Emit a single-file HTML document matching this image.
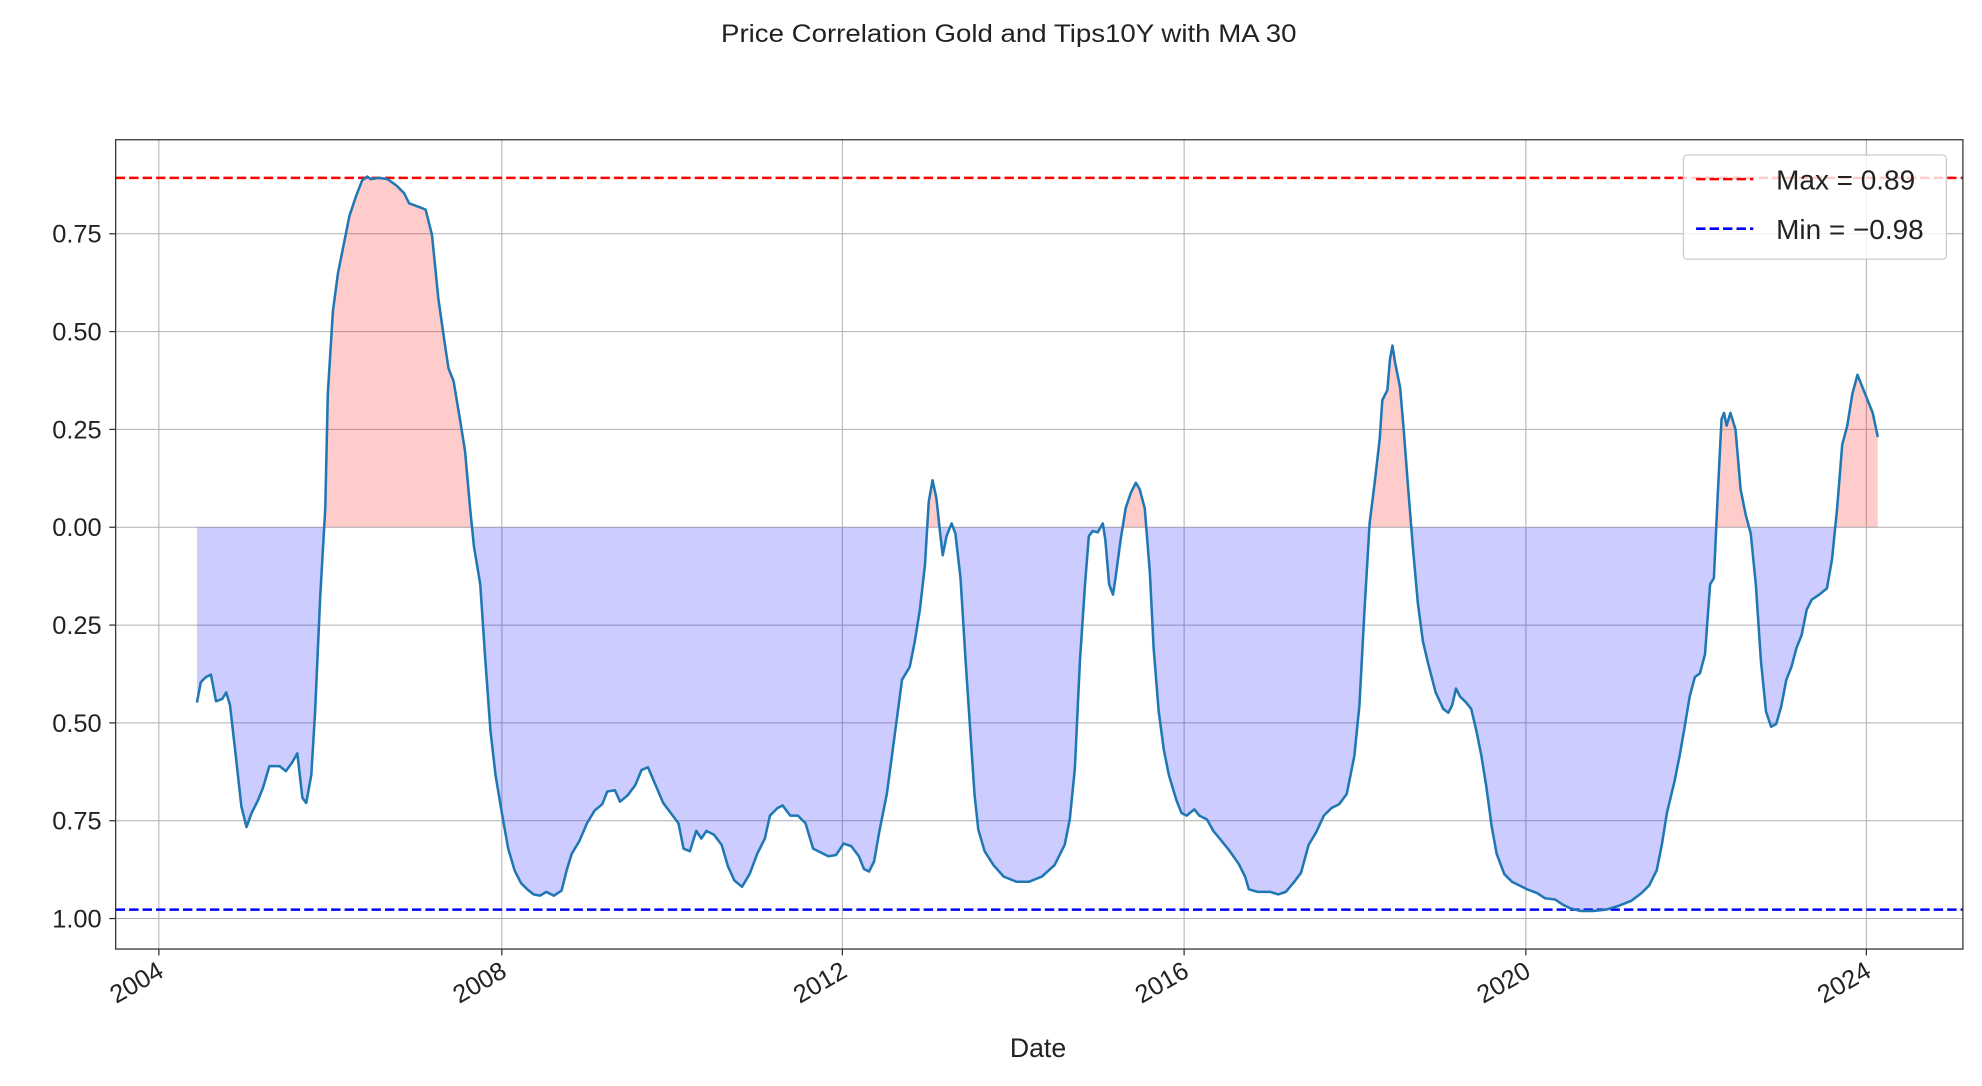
<!DOCTYPE html>
<html><head><meta charset="utf-8"><style>html,body{margin:0;padding:0;background:#fff}svg{display:block}</style></head>
<body>
<svg width="1982" height="1086" viewBox="0 0 1560 854.8" xmlns="http://www.w3.org/2000/svg" font-family="'Liberation Sans Narrow','Liberation Sans',sans-serif">
<defs>
<clipPath id="up"><rect x="91" y="110" width="1454" height="305"/></clipPath>
<clipPath id="dn"><rect x="91" y="415" width="1454" height="332"/></clipPath>
<path id="fillp" d="M155,415 L155,553 158,537 162,533 166,531 170,552 175,550 178,545 181,555 185,590 190,635 194,651 198,640 203,630 207,620 212,603 220,603 225,607 230,600 234,593 238,628 241,632 245,610 248,560 252,470 256,400 258,310 262,245 266,215 270,195 275,170 280,155 285,142 289,139 292,141 298,140 305,141 312,146 318,152 322,160 330,163 335,165 340,185 345,235 350,270 353,290 357,300 362,330 366,355 370,400 373,430 378,460 382,520 386,575 390,610 395,640 400,668 405,685 410,695 415,700 420,704 425,705 430,702 436,705 442,701 446,685 450,672 456,662 462,648 468,638 474,633 478,623 484,622 488,631 494,626 500,618 505,606 510,604 516,618 522,632 528,640 534,648 538,668 543,670 548,654 552,660 556,654 562,657 568,665 573,682 578,693 584,698 590,688 596,672 602,660 606,642 612,636 616,634 622,642 628,642 634,648 640,668 646,671 652,674 658,673 664,664 670,666 676,674 680,684 684,686 688,678 692,655 698,625 704,580 710,535 716,525 720,505 724,480 728,445 731,395 734,378 737,392 740,420 742,437 745,422 749,412 752,420 756,455 760,520 764,580 767,625 770,653 775,670 782,681 790,690 800,694 810,694 820,690 830,681 838,665 842,645 846,605 850,520 854,460 857,422 860,418 864,419 868,412 870,425 873,460 876,468 878,455 882,425 886,400 890,388 894,380 897,385 901,400 905,450 908,510 912,560 916,590 920,610 926,630 930,640 934,642 940,637 944,642 950,645 955,654 960,660 968,670 975,680 980,690 983,700 990,702 1000,702 1006,704 1012,702 1018,695 1024,687 1030,665 1036,655 1042,642 1048,636 1054,633 1060,625 1066,595 1070,555 1074,480 1078,412 1082,380 1086,345 1088,315 1092,307 1094,283 1096,272 1098,285 1102,305 1105,340 1108,380 1112,430 1116,475 1120,505 1124,522 1130,545 1136,558 1140,561 1143,555 1146,542 1149,548 1154,553 1158,558 1162,575 1166,595 1170,620 1174,650 1178,672 1184,688 1190,694 1196,697 1202,700 1210,703 1216,707 1224,708 1230,712 1236,715 1244,717 1254,717 1264,716 1274,713 1284,709 1292,703 1298,697 1304,685 1308,665 1312,640 1318,615 1322,595 1326,572 1330,548 1334,533 1338,530 1342,515 1346,460 1349,455 1352,390 1355,330 1357,325 1359,335 1362,325 1366,338 1370,385 1374,405 1378,420 1382,460 1386,520 1390,560 1394,572 1398,570 1402,556 1406,535 1410,525 1414,510 1418,500 1422,480 1426,472 1432,468 1438,463 1442,440 1446,400 1450,350 1454,335 1458,310 1462,295 1466,305 1470,315 1474,325 1478,344 L1478,415 Z"/>
</defs>
<text x="794" y="33" text-anchor="middle" font-size="20" fill="#222" textLength="453" lengthAdjust="spacingAndGlyphs">Price Correlation Gold and Tips10Y with MA 30</text>
<g stroke="#b0b0b0" stroke-width="0.8">
<line x1="125" y1="110" x2="125" y2="747"/><line x1="395" y1="110" x2="395" y2="747"/><line x1="663" y1="110" x2="663" y2="747"/><line x1="932" y1="110" x2="932" y2="747"/><line x1="1201" y1="110" x2="1201" y2="747"/><line x1="1469" y1="110" x2="1469" y2="747"/>
<line x1="91" y1="184" x2="1545" y2="184"/><line x1="91" y1="261" x2="1545" y2="261"/><line x1="91" y1="338" x2="1545" y2="338"/><line x1="91" y1="415" x2="1545" y2="415"/><line x1="91" y1="492" x2="1545" y2="492"/><line x1="91" y1="569" x2="1545" y2="569"/><line x1="91" y1="646" x2="1545" y2="646"/><line x1="91" y1="723" x2="1545" y2="723"/>
</g>
<use href="#fillp" fill="#ff0000" fill-opacity="0.2" clip-path="url(#up)"/>
<use href="#fillp" fill="#0000ff" fill-opacity="0.2" clip-path="url(#dn)"/>
<line x1="91" y1="140" x2="1545" y2="140" stroke="#ff0000" stroke-width="2" stroke-dasharray="7.4,3.2"/>
<line x1="91" y1="716" x2="1545" y2="716" stroke="#0000ff" stroke-width="2" stroke-dasharray="7.4,3.2"/>
<polyline fill="none" stroke="#1f77b4" stroke-width="2" stroke-linejoin="round" points="155,553 158,537 162,533 166,531 170,552 175,550 178,545 181,555 185,590 190,635 194,651 198,640 203,630 207,620 212,603 220,603 225,607 230,600 234,593 238,628 241,632 245,610 248,560 252,470 256,400 258,310 262,245 266,215 270,195 275,170 280,155 285,142 289,139 292,141 298,140 305,141 312,146 318,152 322,160 330,163 335,165 340,185 345,235 350,270 353,290 357,300 362,330 366,355 370,400 373,430 378,460 382,520 386,575 390,610 395,640 400,668 405,685 410,695 415,700 420,704 425,705 430,702 436,705 442,701 446,685 450,672 456,662 462,648 468,638 474,633 478,623 484,622 488,631 494,626 500,618 505,606 510,604 516,618 522,632 528,640 534,648 538,668 543,670 548,654 552,660 556,654 562,657 568,665 573,682 578,693 584,698 590,688 596,672 602,660 606,642 612,636 616,634 622,642 628,642 634,648 640,668 646,671 652,674 658,673 664,664 670,666 676,674 680,684 684,686 688,678 692,655 698,625 704,580 710,535 716,525 720,505 724,480 728,445 731,395 734,378 737,392 740,420 742,437 745,422 749,412 752,420 756,455 760,520 764,580 767,625 770,653 775,670 782,681 790,690 800,694 810,694 820,690 830,681 838,665 842,645 846,605 850,520 854,460 857,422 860,418 864,419 868,412 870,425 873,460 876,468 878,455 882,425 886,400 890,388 894,380 897,385 901,400 905,450 908,510 912,560 916,590 920,610 926,630 930,640 934,642 940,637 944,642 950,645 955,654 960,660 968,670 975,680 980,690 983,700 990,702 1000,702 1006,704 1012,702 1018,695 1024,687 1030,665 1036,655 1042,642 1048,636 1054,633 1060,625 1066,595 1070,555 1074,480 1078,412 1082,380 1086,345 1088,315 1092,307 1094,283 1096,272 1098,285 1102,305 1105,340 1108,380 1112,430 1116,475 1120,505 1124,522 1130,545 1136,558 1140,561 1143,555 1146,542 1149,548 1154,553 1158,558 1162,575 1166,595 1170,620 1174,650 1178,672 1184,688 1190,694 1196,697 1202,700 1210,703 1216,707 1224,708 1230,712 1236,715 1244,717 1254,717 1264,716 1274,713 1284,709 1292,703 1298,697 1304,685 1308,665 1312,640 1318,615 1322,595 1326,572 1330,548 1334,533 1338,530 1342,515 1346,460 1349,455 1352,390 1355,330 1357,325 1359,335 1362,325 1366,338 1370,385 1374,405 1378,420 1382,460 1386,520 1390,560 1394,572 1398,570 1402,556 1406,535 1410,525 1414,510 1418,500 1422,480 1426,472 1432,468 1438,463 1442,440 1446,400 1450,350 1454,335 1458,310 1462,295 1466,305 1470,315 1474,325 1478,344"/>
<rect x="91" y="110" width="1454" height="637" fill="none" stroke="#333" stroke-width="1"/>
<g stroke="#333" stroke-width="1">
<line x1="86" y1="184" x2="91" y2="184"/><line x1="86" y1="261" x2="91" y2="261"/><line x1="86" y1="338" x2="91" y2="338"/><line x1="86" y1="415" x2="91" y2="415"/><line x1="86" y1="492" x2="91" y2="492"/><line x1="86" y1="569" x2="91" y2="569"/><line x1="86" y1="646" x2="91" y2="646"/><line x1="86" y1="723" x2="91" y2="723"/>
<line x1="125" y1="747" x2="125" y2="752"/><line x1="395" y1="747" x2="395" y2="752"/><line x1="663" y1="747" x2="663" y2="752"/><line x1="932" y1="747" x2="932" y2="752"/><line x1="1201" y1="747" x2="1201" y2="752"/><line x1="1469" y1="747" x2="1469" y2="752"/>
</g>
<g font-size="20" fill="#222" text-anchor="end">
<text x="80" y="191">0.75</text><text x="80" y="268">0.50</text><text x="80" y="345">0.25</text><text x="80" y="422">0.00</text><text x="80" y="499">0.25</text><text x="80" y="576">0.50</text><text x="80" y="653">0.75</text><text x="80" y="730">1.00</text>
</g>
<g font-size="20" fill="#222" text-anchor="end">
<text transform="translate(130,768) rotate(-30)">2004</text>
<text transform="translate(400,768) rotate(-30)">2008</text>
<text transform="translate(668,768) rotate(-30)">2012</text>
<text transform="translate(937,768) rotate(-30)">2016</text>
<text transform="translate(1206,768) rotate(-30)">2020</text>
<text transform="translate(1474,768) rotate(-30)">2024</text>
</g>
<text x="817" y="832" text-anchor="middle" font-size="21" fill="#222">Date</text>
<rect x="1325" y="122" width="207" height="82" rx="3" fill="#fff" fill-opacity="0.8" stroke="#ccc" stroke-width="1"/>
<line x1="1335" y1="141" x2="1380" y2="141" stroke="#ff0000" stroke-width="2" stroke-dasharray="7.4,3.2"/>
<line x1="1335" y1="180" x2="1380" y2="180" stroke="#0000ff" stroke-width="2" stroke-dasharray="7.4,3.2"/>
<text x="1398" y="149" font-size="22" fill="#222">Max = 0.89</text>
<text x="1398" y="188" font-size="22" fill="#222">Min = −0.98</text>
</svg>
</body></html>
